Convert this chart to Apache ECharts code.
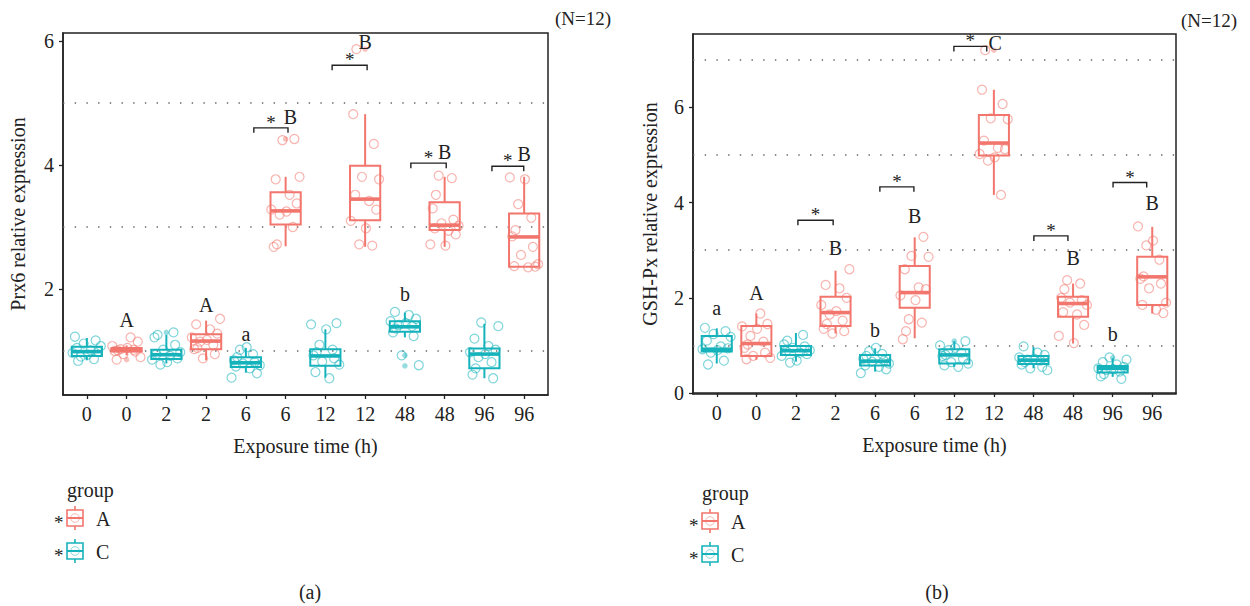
<!DOCTYPE html>
<html>
<head>
<meta charset="utf-8">
<script src="https://cdn.jsdelivr.net/npm/echarts@6/dist/echarts.min.js"></script>
<style>
  html, body { margin: 0; padding: 0; background: #ffffff; }
  #chart { width: 1250px; height: 606px; }
</style>
</head>
<body>
<div id="chart"></div>
<script>
// ---- categories -------------------------------------------------------
const timeLabels = ['0', '0', '2', '2', '6', '6', '12', '12', '48', '48', '96', '96'];
const groupOfSlot = ['C', 'A', 'C', 'A', 'C', 'A', 'C', 'A', 'C', 'A', 'C', 'A'];

// ---- Prx6: box statistics [low whisker, Q1, median, Q3, high whisker] --
const prxBoxes = [
  [0.85, 0.92, 0.99, 1.07, 1.21],
  [0.93, 0.99, 1.01, 1.05, 1.09],
  [0.80, 0.87, 0.94, 1.02, 1.26],
  [0.85, 1.03, 1.16, 1.27, 1.49],
  [0.65, 0.74, 0.81, 0.90, 1.05],
  [2.69, 3.04, 3.26, 3.56, 3.81],
  [0.57, 0.76, 0.92, 1.03, 1.35],
  [2.68, 3.11, 3.45, 3.99, 4.82],
  [1.22, 1.31, 1.39, 1.48, 1.62],
  [2.68, 2.95, 3.03, 3.40, 3.81],
  [0.56, 0.72, 0.95, 1.04, 1.44],
  [2.36, 2.36, 2.84, 3.22, 3.81]
];
// Prx6: individual samples (12 per slot)
const prxPoints = [
  [1.23, 1.17, 1.12, 1.08, 1.05, 1.01, 0.99, 0.97, 0.94, 0.91, 0.87, 0.84],
  [1.22, 1.15, 1.08, 1.05, 1.03, 1.02, 1.01, 1.00, 0.99, 0.95, 0.90, 0.86],
  [1.30, 1.26, 1.22, 1.10, 1.02, 0.98, 0.95, 0.92, 0.88, 0.86, 0.82, 0.78],
  [1.52, 1.43, 1.35, 1.28, 1.22, 1.18, 1.15, 1.10, 1.05, 1.03, 0.95, 0.88],
  [1.06, 1.02, 0.95, 0.90, 0.85, 0.82, 0.80, 0.77, 0.75, 0.72, 0.64, 0.57],
  [4.42, 4.40, 3.81, 3.77, 3.52, 3.38, 3.28, 3.25, 3.20, 3.00, 2.72, 2.68],
  [1.45, 1.43, 1.35, 1.10, 1.02, 0.98, 0.93, 0.88, 0.83, 0.78, 0.66, 0.56],
  [5.87, 4.82, 4.34, 3.81, 3.77, 3.52, 3.42, 3.28, 3.10, 2.98, 2.72, 2.70],
  [1.63, 1.58, 1.52, 1.48, 1.45, 1.42, 1.40, 1.36, 1.30, 1.24, 0.93, 0.77],
  [3.83, 3.79, 3.52, 3.30, 3.12, 3.06, 3.02, 2.98, 2.94, 2.88, 2.72, 2.70],
  [1.46, 1.40, 1.20, 1.08, 1.02, 0.98, 0.95, 0.90, 0.82, 0.72, 0.62, 0.56],
  [3.80, 3.77, 3.37, 3.15, 2.95, 2.85, 2.68, 2.55, 2.40, 2.37, 2.35, 2.36]
];
// Prx6 outliers: [slot, value]
const prxOutliers = [[3, 1.30], [2, 0.86], [6, 4.42], [8, 5.87], [9, 0.93], [9, 0.76]];

// ---- GSH-Px ------------------------------------------------------------
const gshBoxes = [
  [0.62, 0.87, 0.92, 1.20, 1.36],
  [0.70, 0.78, 1.04, 1.41, 1.67],
  [0.66, 0.80, 0.89, 0.99, 1.26],
  [1.25, 1.41, 1.69, 2.02, 2.57],
  [0.45, 0.58, 0.67, 0.80, 0.94],
  [1.15, 1.79, 2.11, 2.67, 3.27],
  [0.55, 0.62, 0.80, 0.92, 1.09],
  [4.16, 4.99, 5.25, 5.84, 6.37],
  [0.52, 0.61, 0.69, 0.78, 0.97],
  [1.04, 1.60, 1.88, 2.02, 2.30],
  [0.34, 0.43, 0.52, 0.57, 0.73],
  [1.67, 1.85, 2.44, 2.86, 3.49]
];
const gshPoints = [
  [1.37, 1.30, 1.24, 1.18, 1.10, 0.98, 0.94, 0.92, 0.90, 0.85, 0.68, 0.60],
  [1.67, 1.45, 1.40, 1.35, 1.20, 1.08, 1.02, 0.95, 0.85, 0.78, 0.74, 0.71],
  [1.22, 1.10, 1.02, 0.98, 0.95, 0.90, 0.88, 0.85, 0.82, 0.78, 0.68, 0.64],
  [2.60, 2.27, 2.20, 2.00, 1.85, 1.72, 1.65, 1.52, 1.45, 1.35, 1.30, 1.25],
  [0.95, 0.88, 0.82, 0.78, 0.72, 0.68, 0.66, 0.62, 0.58, 0.55, 0.50, 0.42],
  [3.28, 2.88, 2.86, 2.60, 2.22, 2.18, 2.05, 1.95, 1.55, 1.48, 1.30, 1.13],
  [1.09, 1.00, 0.95, 0.90, 0.85, 0.80, 0.78, 0.72, 0.65, 0.62, 0.58, 0.55],
  [7.20, 6.37, 6.07, 5.77, 5.75, 5.30, 5.15, 5.12, 5.02, 4.95, 4.88, 4.16],
  [0.98, 0.85, 0.80, 0.75, 0.72, 0.70, 0.68, 0.65, 0.60, 0.55, 0.52, 0.48],
  [2.37, 2.30, 2.18, 2.00, 1.95, 1.90, 1.85, 1.70, 1.65, 1.43, 1.20, 1.05],
  [0.75, 0.70, 0.65, 0.60, 0.55, 0.52, 0.50, 0.48, 0.45, 0.40, 0.35, 0.30],
  [3.50, 3.20, 3.10, 2.80, 2.45, 2.40, 2.30, 2.20, 1.90, 1.85, 1.75, 1.68]
];
const gshOutliers = [[8, 7.20], [11, 0.74], [7, 1.09]];

// ---- significance annotations: [from, to, height] and letters ---------
const prxBrackets = [[5.20, 6.06, 4.60], [7.17, 8.05, 5.61], [9.15, 10.04, 4.03], [11.19, 11.99, 3.98]];
const prxLetters = [
  [2, 1.50, 'A'], [4, 1.74, 'A'], [5, 1.27, 'a'], [9, 1.92, 'b'],
  [6.12, 4.77, 'B'], [8.0, 5.98, 'B'], [10.0, 4.21, 'B'], [12.0, 4.18, 'B']
];
const gshBrackets = [[3.05, 3.94, 3.63], [5.12, 5.98, 4.33], [6.99, 7.82, 7.28], [9.01, 9.87, 3.30], [11.01, 11.86, 4.42]];
const gshLetters = [
  [1, 1.79, 'a'], [2, 2.10, 'A'], [4, 3.05, 'B'], [5, 1.32, 'b'], [6, 3.72, 'B'],
  [8.03, 7.35, 'C'], [10, 2.84, 'B'], [11, 1.24, 'b'], [12, 3.99, 'B']
];

// horizontal spread of the jittered samples within a slot (x units)
const jitter = [-0.30, 0.22, -0.08, 0.35, -0.25, 0.10, 0.28, -0.36, 0.02, -0.15, 0.18, -0.22];

const COLORS = { A: '#F2766D', C: '#17B3BC' };
const FONT = "'Liberation Serif', 'DejaVu Serif', serif";
const INK = '#222222';
const FS = 20;

function boxSeries(gridIdx, boxes, grp) {
  const data = [];
  boxes.forEach((b, i) => {
    if (groupOfSlot[i] === grp) data.push([i + 1].concat(b));
  });
  const color = COLORS[grp];
  return {
    type: 'custom', xAxisIndex: gridIdx, yAxisIndex: gridIdx, z: 3,
    data: data,
    encode: { x: 0, y: [1, 2, 3, 4, 5] },
    renderItem: function (params, api) {
      const x = api.value(0);
      const lo = api.coord([x, api.value(1)]);
      const q1 = api.coord([x, api.value(2)]);
      const md = api.coord([x, api.value(3)]);
      const q3 = api.coord([x, api.value(4)]);
      const hi = api.coord([x, api.value(5)]);
      const half = api.size([0.38, 0])[0];
      const cx = md[0];
      const st = { stroke: color, lineWidth: 2, fill: null };
      return {
        type: 'group',
        children: [
          { type: 'line', shape: { x1: cx, y1: hi[1], x2: cx, y2: q3[1] }, style: st },
          { type: 'line', shape: { x1: cx, y1: q1[1], x2: cx, y2: lo[1] }, style: st },
          { type: 'rect', shape: { x: cx - half, y: q3[1], width: half * 2, height: q1[1] - q3[1] }, style: { stroke: color, lineWidth: 2, fill: 'rgba(0,0,0,0)' } },
          { type: 'line', shape: { x1: cx - half, y1: md[1], x2: cx + half, y2: md[1] }, style: { stroke: color, lineWidth: 3.6 } }
        ]
      };
    }
  };
}

function pointSeries(gridIdx, points, grp, gridLines) {
  const data = [];
  points.forEach((vals, i) => {
    if (groupOfSlot[i] !== grp) return;
    vals.forEach((v, j) => {
      data.push([i + 1 + jitter[(j + 5 * i) % 12], v]);
    });
  });
  const s = {
    type: 'scatter', xAxisIndex: gridIdx, yAxisIndex: gridIdx, z: 4,
    symbol: 'circle', symbolSize: 9, silent: true,
    itemStyle: { color: 'rgba(255,255,255,0)', borderColor: COLORS[grp], borderWidth: 1.2, opacity: 0.55 },
    data: data
  };
  if (gridLines) {
    s.markLine = {
      silent: true, symbol: 'none', label: { show: false }, z: 1,
      lineStyle: { color: '#666', width: 1.6, type: [1.4, 10.3] },
      data: gridLines.map(v => ({ yAxis: v }))
    };
  }
  return s;
}

function outlierSeries(gridIdx, outliers) {
  return {
    type: 'scatter', xAxisIndex: gridIdx, yAxisIndex: gridIdx, z: 3,
    symbol: 'circle', symbolSize: 5.5, silent: true,
    data: outliers.map(o => ({
      value: [o[0], o[1]],
      itemStyle: { color: COLORS[groupOfSlot[o[0] - 1]], opacity: 0.45 }
    }))
  };
}

function bracketSeries(gridIdx, brackets) {
  return {
    type: 'custom', xAxisIndex: gridIdx, yAxisIndex: gridIdx, z: 5,
    data: brackets,
    encode: { x: [0, 1], y: 2 },
    renderItem: function (params, api) {
      const a = api.coord([api.value(0), api.value(2)]);
      const b = api.coord([api.value(1), api.value(2)]);
      return {
        type: 'group',
        children: [
          { type: 'polyline', shape: { points: [[a[0], a[1] + 5], [a[0], a[1]], [b[0], b[1]], [b[0], b[1] + 5]] },
            style: { stroke: INK, lineWidth: 1.4, fill: null } },
          { type: 'text', x: (a[0] + b[0]) / 2, y: a[1] + 4,
            style: { text: '*', fill: INK, font: '19px ' + FONT, align: 'center', verticalAlign: 'bottom' } }
        ]
      };
    }
  };
}

function letterSeries(gridIdx, letters) {
  return {
    type: 'custom', xAxisIndex: gridIdx, yAxisIndex: gridIdx, z: 5,
    data: letters.map(l => [l[0], l[1]]),
    encode: { x: 0, y: 1 },
    renderItem: function (params, api) {
      const p = api.coord([api.value(0), api.value(1)]);
      return {
        type: 'text', x: p[0], y: p[1],
        style: { text: letters[params.dataIndex][2], fill: INK, font: FS + 'px ' + FONT, align: 'center', verticalAlign: 'middle' }
      };
    }
  };
}

function xAxisFor(gridIdx) {
  return {
    type: 'value', gridIndex: gridIdx, min: 0.4, max: 12.6,
    name: 'Exposure time (h)', nameLocation: 'middle', nameGap: 41,
    nameTextStyle: { fontFamily: FONT, fontSize: FS, color: INK },
    axisLine: { show: true, lineStyle: { color: INK, width: 1.5 } },
    axisTick: { show: true, length: 4, customValues: [1, 2, 3, 4, 5, 6, 7, 8, 9, 10, 11, 12], lineStyle: { color: INK, width: 1.3 } },
    axisLabel: {
      customValues: [1, 2, 3, 4, 5, 6, 7, 8, 9, 10, 11, 12],
      formatter: v => timeLabels[Math.round(v) - 1],
      fontFamily: FONT, fontSize: FS, color: INK, margin: 9
    },
    splitLine: { show: false }
  };
}

function yAxisFor(gridIdx, min, max, ticks, title, gap) {
  return {
    type: 'value', gridIndex: gridIdx, min: min, max: max,
    name: title, nameLocation: 'middle', nameGap: gap, nameRotate: 90,
    nameTextStyle: { fontFamily: FONT, fontSize: FS, color: INK },
    axisLine: { show: true, lineStyle: { color: INK, width: 1.5 } },
    axisTick: { show: true, length: 4, customValues: ticks, lineStyle: { color: INK, width: 1.3 } },
    axisLabel: { customValues: ticks, fontFamily: FONT, fontSize: FS, color: INK, margin: 9 },
    splitLine: { show: false }
  };
}

function legendBlock(left, top) {
  // "group" legend with one entry per treatment group
  const rows = [['A', 0], ['C', 33]];
  const children = [
    { type: 'text', x: left + 13, y: top, style: { text: 'group', font: FS + 'px ' + FONT, fill: INK, verticalAlign: 'middle' } }
  ];
  rows.forEach(([g, dy]) => {
    const y = top + 28 + dy;
    const c = COLORS[g];
    const x0 = left + 13;
    children.push(
      { type: 'text', x: left, y: y + 4, style: { text: '*', font: '19px ' + FONT, fill: INK, verticalAlign: 'middle' } },
      { type: 'line', shape: { x1: x0 + 8, y1: y - 12, x2: x0 + 8, y2: y + 12 }, style: { stroke: c, lineWidth: 1.6 } },
      { type: 'rect', shape: { x: x0, y: y - 8, width: 16, height: 16 }, style: { fill: '#fff', stroke: c, lineWidth: 1.6 } },
      { type: 'circle', shape: { cx: x0 + 8, cy: y, r: 4.3 }, style: { fill: null, stroke: c, lineWidth: 1, opacity: 0.5 } },
      { type: 'line', shape: { x1: x0, y1: y, x2: x0 + 16, y2: y }, style: { stroke: c, lineWidth: 2 } },
      { type: 'text', x: x0 + 29, y: y + 1, style: { text: g, font: FS + 'px ' + FONT, fill: INK, verticalAlign: 'middle' } }
    );
  });
  return { type: 'group', children: children };
}

const chart = echarts.init(document.getElementById('chart'), null, { renderer: 'svg' });

const option = {
  animation: false,
  backgroundColor: '#ffffff',
  textStyle: { fontFamily: FONT },
  grid: [
    { left: 63, top: 33, width: 485, height: 362, show: true, borderColor: INK, borderWidth: 1.5, backgroundColor: 'rgba(0,0,0,0)' },
    { left: 693, top: 34, width: 483, height: 360, show: true, borderColor: INK, borderWidth: 1.5, backgroundColor: 'rgba(0,0,0,0)' }
  ],
  xAxis: [xAxisFor(0), xAxisFor(1)],
  yAxis: [
    yAxisFor(0, 0.29, 6.13, [2, 4, 6], 'Prx6 relative expression', 35),
    yAxisFor(1, -0.02, 7.54, [0, 2, 4, 6], 'GSH-Px relative expression', 33)
  ],
  series: [
    boxSeries(0, prxBoxes, 'C'), boxSeries(0, prxBoxes, 'A'),
    outlierSeries(0, prxOutliers),
    pointSeries(0, prxPoints, 'C', [1, 3, 5]), pointSeries(0, prxPoints, 'A'),
    bracketSeries(0, prxBrackets), letterSeries(0, prxLetters),

    boxSeries(1, gshBoxes, 'C'), boxSeries(1, gshBoxes, 'A'),
    outlierSeries(1, gshOutliers),
    pointSeries(1, gshPoints, 'C', [1, 3, 5, 7]), pointSeries(1, gshPoints, 'A'),
    bracketSeries(1, gshBrackets), letterSeries(1, gshLetters)
  ],
  graphic: [
    { type: 'text', x: 611, y: 18, style: { text: '(N=12)', font: '19px ' + FONT, fill: INK, align: 'right', verticalAlign: 'middle' } },
    { type: 'text', x: 1237, y: 20, style: { text: '(N=12)', font: '19px ' + FONT, fill: INK, align: 'right', verticalAlign: 'middle' } },
    legendBlock(54, 490),
    legendBlock(689, 493),
    { type: 'text', x: 310, y: 592, style: { text: '(a)', font: FS + 'px ' + FONT, fill: INK, align: 'center', verticalAlign: 'middle' } },
    { type: 'text', x: 937, y: 592, style: { text: '(b)', font: FS + 'px ' + FONT, fill: INK, align: 'center', verticalAlign: 'middle' } }
  ]
};

chart.setOption(option);
</script>
</body>
</html>
